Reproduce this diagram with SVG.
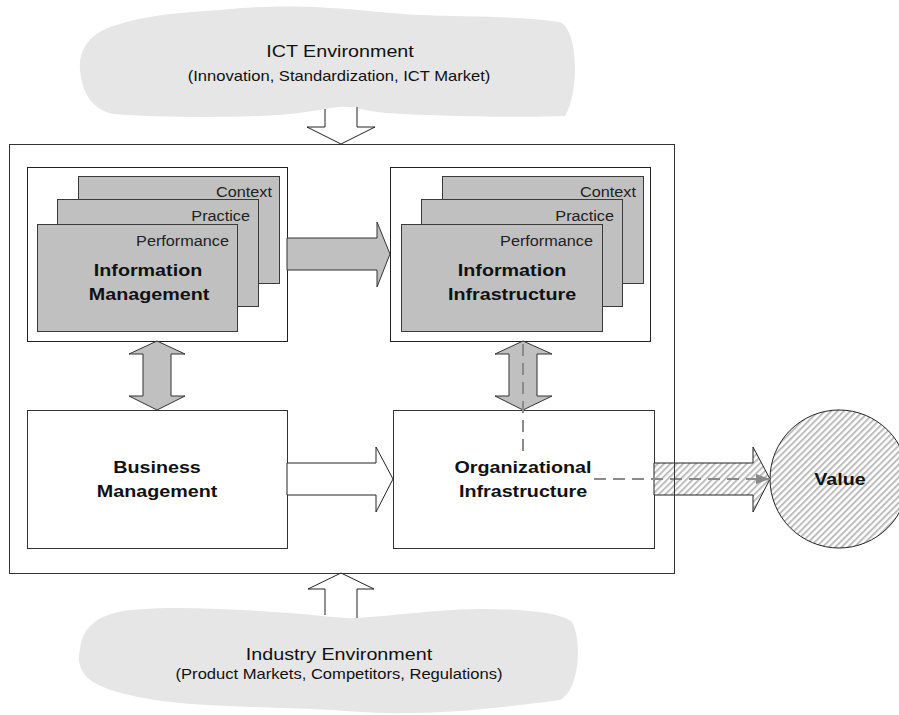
<svg xmlns="http://www.w3.org/2000/svg" width="899" height="715" viewBox="0 0 899 715">
<style>
text{font-family:"Liberation Sans",Arial,sans-serif;fill:#111}
.t{font-size:17px}
.s{font-size:14.3px}
.c{font-size:14px;fill:#222}
.b{font-size:17px;font-weight:bold}
.cloud{fill:#e6e6e6;stroke:none}
.frame{fill:#fff;stroke:#222;stroke-width:1}
.card{fill:#c0c0c0;stroke:#3a3a3a;stroke-width:1}
.box{fill:#fff;stroke:#333;stroke-width:1}
.garrow{fill:#c0c0c0;stroke:#333;stroke-width:1}
.warrow{fill:#fff;stroke:#222;stroke-width:1}
.harrow{fill:url(#hatch);stroke:#222;stroke-width:1}
.dash{fill:none;stroke:#8a8a8a;stroke-width:2;stroke-dasharray:12 7}
</style>
<defs>
<pattern id="hatch" patternUnits="userSpaceOnUse" width="4.5" height="4.5" patternTransform="rotate(45)">
<rect width="4.5" height="4.5" fill="#ffffff"/>
<rect width="2" height="4.5" fill="#bdbdbd"/>
</pattern>
<marker id="ah" viewBox="0 0 14 10" refX="14" refY="5" markerWidth="14" markerHeight="10" markerUnits="userSpaceOnUse" orient="auto">
<path d="M0,0 L14,5 L0,10 Z" fill="#8a8a8a"/>
</marker>
</defs>

<g id="ict-environment">
<path class="cloud" d="M80,70 C78,45 95,30 120,24 C150,14 190,12 220,10 C260,6 290,6 315,7 C360,9 390,14 420,15 C470,17 520,16 560,22 C578,30 580,90 565,116 C520,118 430,116 385,113 C365,111 352,106 341,107 C325,108 310,112 290,114 C250,118 160,118 113,114 C92,110 82,92 80,70 Z"/>
<text class="t" text-anchor="middle" transform="translate(340,57) scale(1.16,1)">ICT Environment</text>
<text class="s" text-anchor="middle" transform="translate(339,81) scale(1.16,1)">(Innovation, Standardization, ICT Market)</text>
</g>

<g id="industry-environment">
<path class="cloud" d="M80,650 C82,625 100,614 130,610 C180,605 240,610 290,613 C320,615 340,619 357,618 C390,616 430,610 480,609 C520,609 560,612 572,622 C582,640 580,690 560,700 C530,704 470,712 413,713 C370,714 340,710 313,709 C260,707 210,706 180,703 C130,698 95,688 85,675 C78,665 78,658 80,650 Z"/>
<text class="t" text-anchor="middle" transform="translate(339,660) scale(1.16,1)">Industry Environment</text>
<text class="s" text-anchor="middle" transform="translate(339,679) scale(1.16,1)">(Product Markets, Competitors, Regulations)</text>
</g>

<g id="information-management">
<rect class="frame" x="27.5" y="167.5" width="260" height="174"/>
<rect class="card" x="78.5" y="176.5" width="201" height="107"/>
<rect class="card" x="57.5" y="199.5" width="201" height="107"/>
<rect class="card" x="37.5" y="224.5" width="200" height="107"/>
<text class="c" text-anchor="end" transform="translate(272,197) scale(1.16,1)">Context</text>
<text class="c" text-anchor="end" transform="translate(250,221) scale(1.16,1)">Practice</text>
<text class="c" text-anchor="end" transform="translate(229,246) scale(1.16,1)">Performance</text>
<text class="b" text-anchor="middle" transform="translate(148,276) scale(1.16,1)">Information</text>
<text class="b" text-anchor="middle" transform="translate(149,300) scale(1.16,1)">Management</text>
</g>

<g id="information-infrastructure">
<rect class="frame" x="390.5" y="167.5" width="260" height="174"/>
<rect class="card" x="442.5" y="176.5" width="201" height="107"/>
<rect class="card" x="421.5" y="199.5" width="201" height="107"/>
<rect class="card" x="401.5" y="224.5" width="201" height="107"/>
<text class="c" text-anchor="end" transform="translate(636,197) scale(1.16,1)">Context</text>
<text class="c" text-anchor="end" transform="translate(614,221) scale(1.16,1)">Practice</text>
<text class="c" text-anchor="end" transform="translate(593,246) scale(1.16,1)">Performance</text>
<text class="b" text-anchor="middle" transform="translate(512,276) scale(1.16,1)">Information</text>
<text class="b" text-anchor="middle" transform="translate(512,300) scale(1.16,1)">Infrastructure</text>
</g>

<g id="business-management">
<rect class="box" x="27.5" y="410.5" width="260" height="138"/>
<text class="b" text-anchor="middle" transform="translate(157,473) scale(1.16,1)">Business</text>
<text class="b" text-anchor="middle" transform="translate(157,497) scale(1.16,1)">Management</text>
</g>

<g id="organizational-infrastructure">
<rect class="box" x="393.5" y="410.5" width="261" height="138"/>
<text class="b" text-anchor="middle" transform="translate(523,473) scale(1.16,1)">Organizational</text>
<text class="b" text-anchor="middle" transform="translate(523,497) scale(1.16,1)">Infrastructure</text>
</g>

<g id="value">
<circle cx="839" cy="479" r="69" fill="url(#hatch)" stroke="#222" stroke-width="1"/>
<text class="b" text-anchor="middle" transform="translate(840,485) scale(1.16,1)">Value</text>
</g>

<g id="connectors">
<!-- ICT -> outer -->
<path class="warrow" d="M325,109 V127 H307 L341,144 L375,127 H357 V107"/>
<!-- Industry -> outer -->
<path class="warrow" d="M325,615 V589 H308 L341,573 L374,589 H357 V618"/>
<!-- Info Mgmt -> Info Infra -->
<polygon class="garrow" points="287,238 377,238 377,222 390,254 377,287 377,270 287,270"/>
<!-- Info Mgmt <-> Business Mgmt -->
<polygon class="garrow" points="157,341 185,354 171,354 171,396 185,396 157,410 129,396 143,396 143,354 129,354"/>
<!-- Info Infra <-> Org Infra -->
<polygon class="garrow" points="523,341 552,354 537,354 537,396 552,396 523,410 495,396 509,396 509,354 495,354"/>
<!-- Business -> Org -->
<polygon class="warrow" points="287,463 376,463 376,447 393,479 376,512 376,495 287,495"/>
<!-- Org -> Value -->
<polygon class="harrow" points="654,463 753,463 753,447 770,479 753,512 753,495 654,495"/>
<!-- dashed elbow -->
<path class="dash" d="M523,344 V456"/>
<path class="dash" d="M594,479 H770" marker-end="url(#ah)"/>
</g>

<g id="outer-box">
<rect x="9.5" y="144.5" width="665" height="429" fill="none" stroke="#333" stroke-width="1"/>
</g>
</svg>
